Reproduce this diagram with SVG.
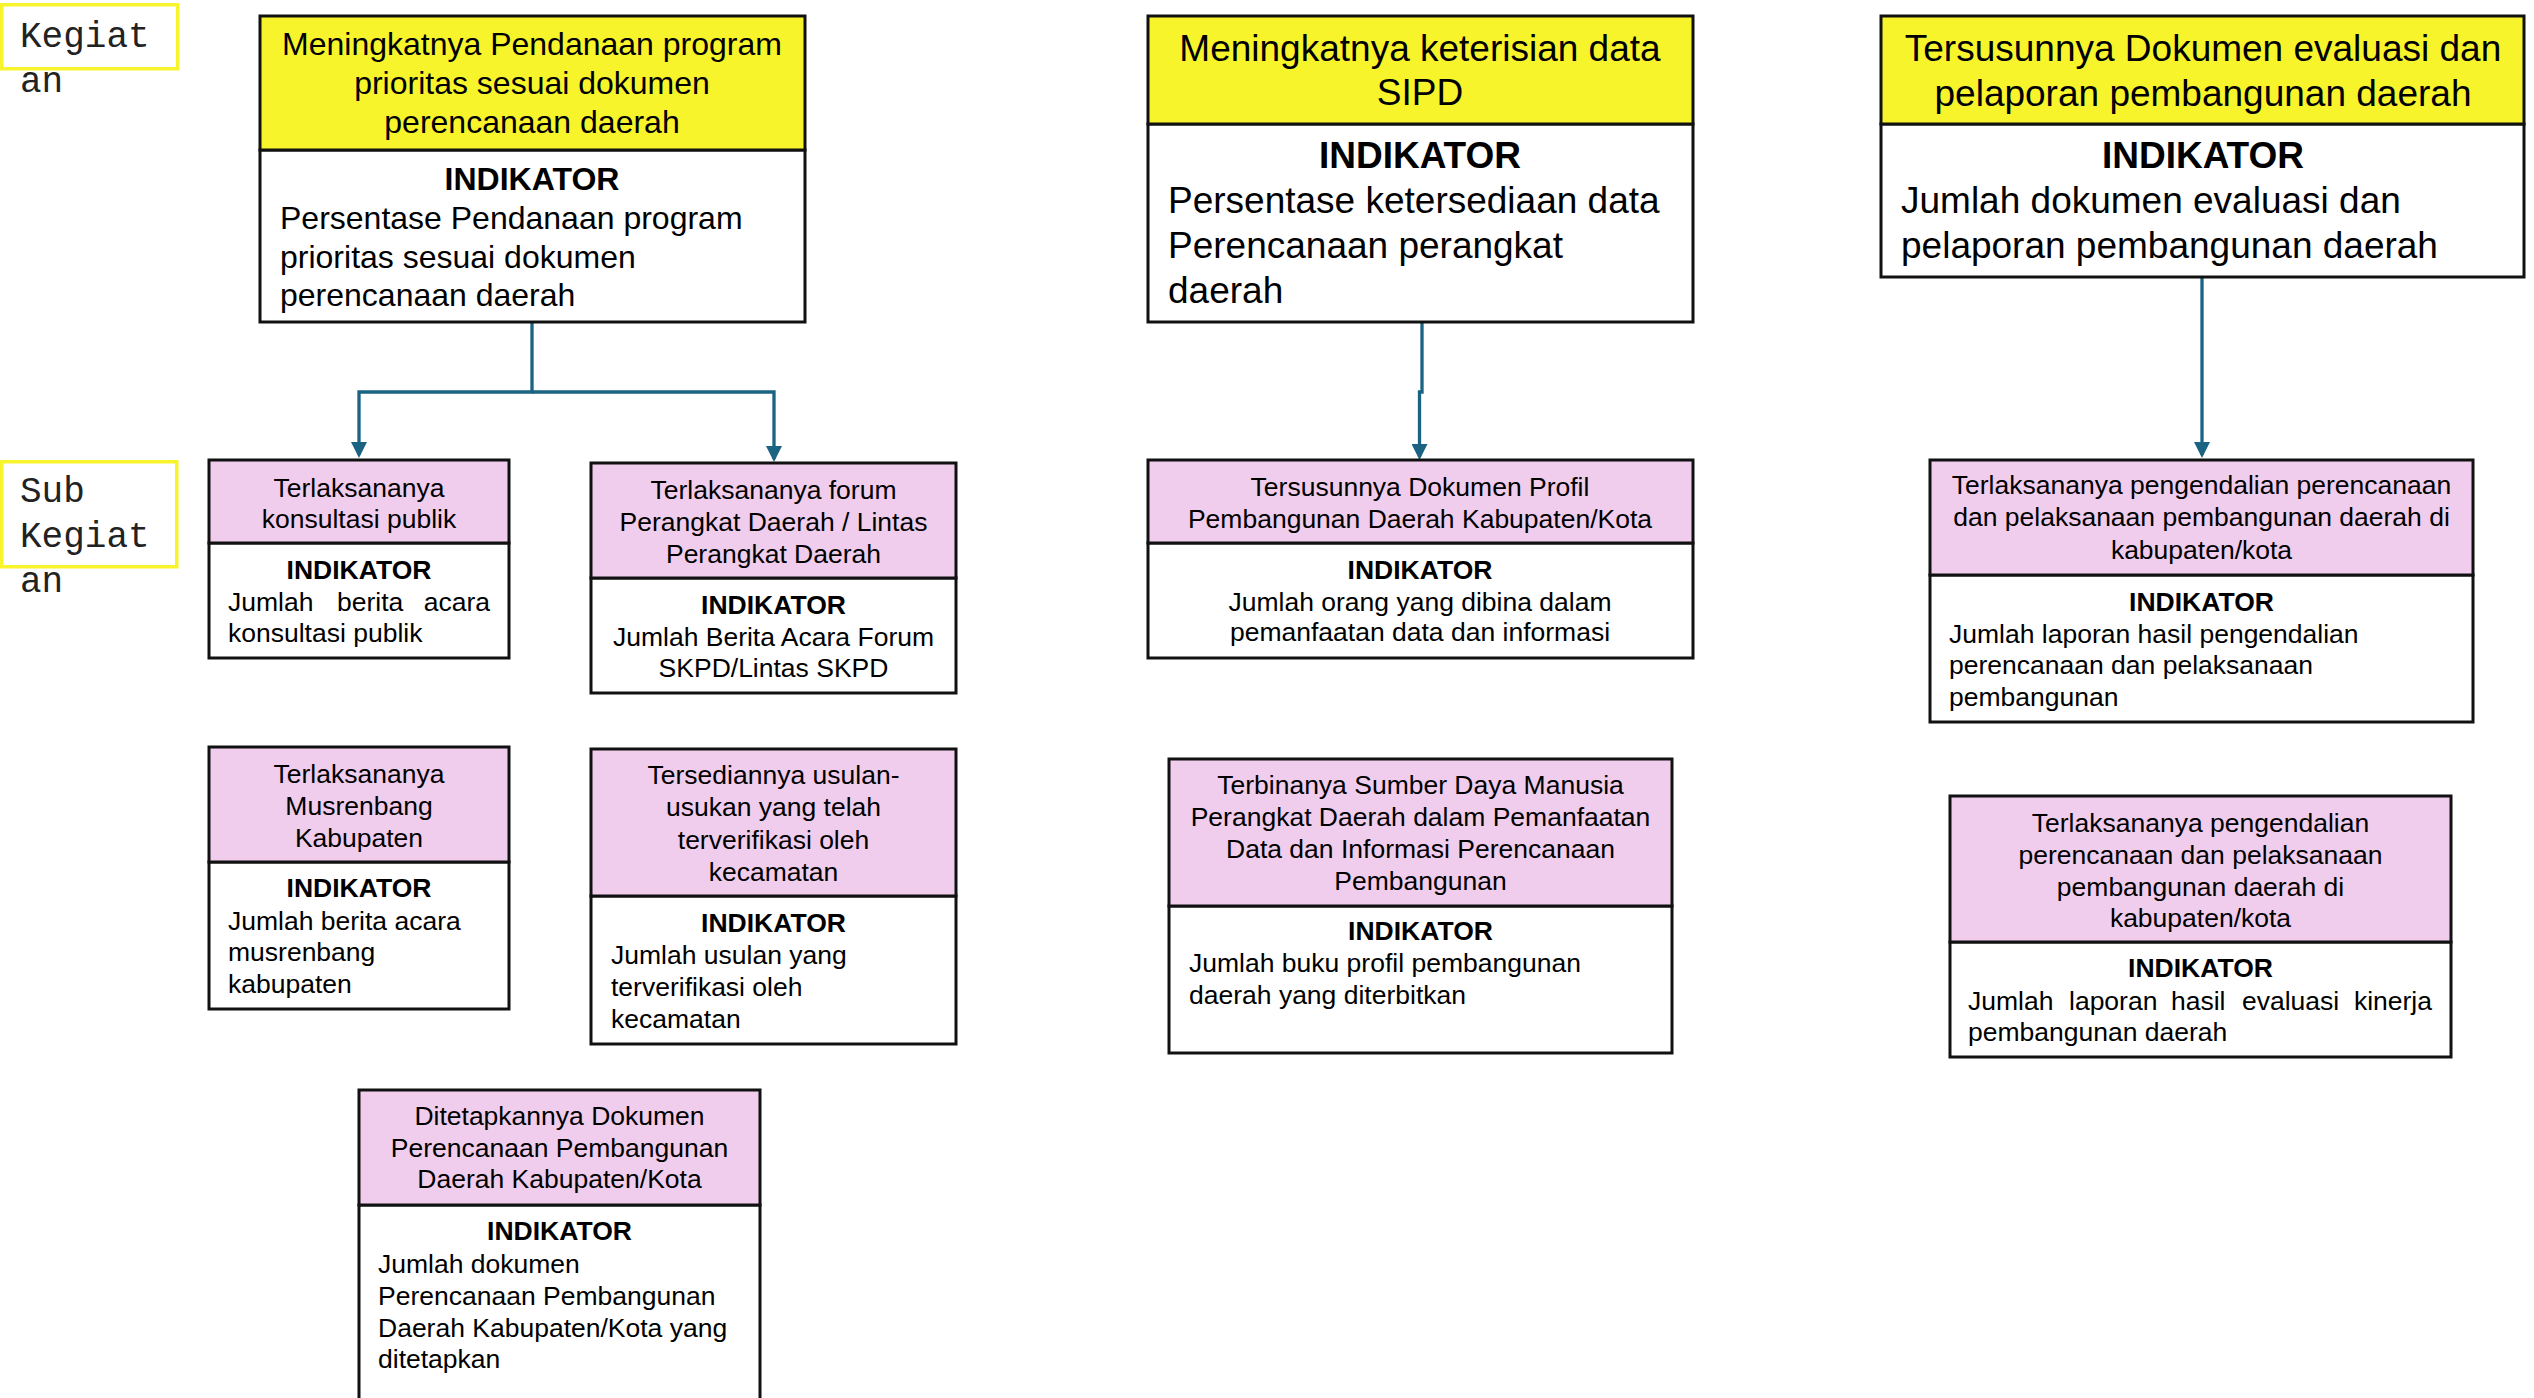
<svg xmlns="http://www.w3.org/2000/svg" width="2534" height="1398" viewBox="0 0 2534 1398">
<style>
.lbl{fill:none;stroke:#F8F42C;stroke-width:3.5}
.mono{font-family:"Liberation Mono","Courier New",monospace;font-size:36px;fill:#222}
.hy{fill:#F8F42C;stroke:#111;stroke-width:3}
.hp{fill:#F0CDED;stroke:#111;stroke-width:3}
.bd{fill:#fff;stroke:#111;stroke-width:3}
text{font-family:"Liberation Sans",Arial,sans-serif;fill:#000}
.t32{font-size:32px}
.t37{font-size:37px}
.t26{font-size:26.5px}
.c{text-anchor:middle}
.e{text-anchor:end}
.b{font-weight:bold}
.conn{fill:none;stroke:#1A6383;stroke-width:3.3}
</style>
<defs>
<marker id="arr" markerUnits="userSpaceOnUse" markerWidth="16" markerHeight="16" refX="13" refY="8" orient="auto">
<path d="M0,0 L16,8 L0,16 z" fill="#1A6383"/>
</marker>
</defs>
<rect width="2534" height="1398" fill="#fff"/>

<g id="label-kegiatan">
<rect class="lbl" x="1.75" y="4.75" width="176" height="64"/>
<text class="mono" x="20" y="47">Kegiat</text>
<text class="mono" x="20" y="92">an</text>
</g>
<g id="label-subkegiatan">
<rect class="lbl" x="1.75" y="461.75" width="175" height="105"/>
<text class="mono" x="20" y="502">Sub</text>
<text class="mono" x="20" y="547">Kegiat</text>
<text class="mono" x="20" y="592">an</text>
</g>

<g id="connectors">
<path class="conn" d="M532,322 V392 H359 V455" marker-end="url(#arr)"/>
<path class="conn" d="M532,392 H774 V459" marker-end="url(#arr)"/>
<path class="conn" d="M1422,322 V392 H1419.5 V457" marker-end="url(#arr)"/>
<path class="conn" d="M2202,277 V455" marker-end="url(#arr)"/>
</g>

<g id="kegiatan-1">
<rect class="bd" x="260" y="150" width="545" height="172"/>
<rect class="hy" x="260" y="16" width="545" height="134"/>
<text class="t32 c" x="532" y="55">Meningkatnya Pendanaan program</text>
<text class="t32 c" x="532" y="94">prioritas sesuai dokumen</text>
<text class="t32 c" x="532" y="133">perencanaan daerah</text>
<text class="t32 c b" x="532" y="190">INDIKATOR</text>
<text class="t32" x="280" y="229">Persentase Pendanaan program</text>
<text class="t32" x="280" y="268">prioritas sesuai dokumen</text>
<text class="t32" x="280" y="306">perencanaan daerah</text>
</g>

<g id="kegiatan-2">
<rect class="bd" x="1148" y="124" width="545" height="198"/>
<rect class="hy" x="1148" y="16" width="545" height="108"/>
<text class="t37 c" x="1420" y="61">Meningkatnya keterisian data</text>
<text class="t37 c" x="1420" y="105">SIPD</text>
<text class="t37 c b" x="1420" y="168">INDIKATOR</text>
<text class="t37" x="1168" y="213">Persentase ketersediaan data</text>
<text class="t37" x="1168" y="258">Perencanaan perangkat</text>
<text class="t37" x="1168" y="303">daerah</text>
</g>

<g id="kegiatan-3">
<rect class="bd" x="1881" y="124" width="643" height="153"/>
<rect class="hy" x="1881" y="16" width="643" height="108"/>
<text class="t37 c" x="2203" y="61">Tersusunnya Dokumen evaluasi dan</text>
<text class="t37 c" x="2203" y="106">pelaporan pembangunan daerah</text>
<text class="t37 c b" x="2203" y="168">INDIKATOR</text>
<text class="t37" x="1901" y="213">Jumlah dokumen evaluasi dan</text>
<text class="t37" x="1901" y="258">pelaporan pembangunan daerah</text>
</g>

<g id="sub-konsultasi">
<rect class="bd" x="209" y="543" width="300" height="115"/>
<rect class="hp" x="209" y="460" width="300" height="83"/>
<text class="t26 c" x="359" y="497">Terlaksananya</text>
<text class="t26 c" x="359" y="528">konsultasi publik</text>
<text class="t26 c b" x="359" y="579">INDIKATOR</text>
<text class="t26" y="611"><tspan x="228">Jumlah</tspan><tspan x="337">berita</tspan><tspan x="490" text-anchor="end">acara</tspan></text>
<text class="t26" x="228" y="642">konsultasi publik</text>
</g>

<g id="sub-forum">
<rect class="bd" x="591" y="578" width="365" height="115"/>
<rect class="hp" x="591" y="463" width="365" height="115"/>
<text class="t26 c" x="773.5" y="499">Terlaksananya forum</text>
<text class="t26 c" x="773.5" y="531">Perangkat Daerah / Lintas</text>
<text class="t26 c" x="773.5" y="563">Perangkat Daerah</text>
<text class="t26 c b" x="773.5" y="614">INDIKATOR</text>
<text class="t26 c" x="773.5" y="646">Jumlah Berita Acara Forum</text>
<text class="t26 c" x="773.5" y="677">SKPD/Lintas SKPD</text>
</g>

<g id="sub-musrenbang">
<rect class="bd" x="209" y="862" width="300" height="147"/>
<rect class="hp" x="209" y="747" width="300" height="115"/>
<text class="t26 c" x="359" y="783">Terlaksananya</text>
<text class="t26 c" x="359" y="815">Musrenbang</text>
<text class="t26 c" x="359" y="847">Kabupaten</text>
<text class="t26 c b" x="359" y="897">INDIKATOR</text>
<text class="t26" x="228" y="930">Jumlah berita acara</text>
<text class="t26" x="228" y="961">musrenbang</text>
<text class="t26" x="228" y="993">kabupaten</text>
</g>

<g id="sub-usulan">
<rect class="bd" x="591" y="896" width="365" height="148"/>
<rect class="hp" x="591" y="749" width="365" height="147"/>
<text class="t26 c" x="773.5" y="784">Tersediannya usulan-</text>
<text class="t26 c" x="773.5" y="816">usukan yang telah</text>
<text class="t26 c" x="773.5" y="849">terverifikasi oleh</text>
<text class="t26 c" x="773.5" y="881">kecamatan</text>
<text class="t26 c b" x="773.5" y="932">INDIKATOR</text>
<text class="t26" x="611" y="964">Jumlah usulan yang</text>
<text class="t26" x="611" y="996">terverifikasi oleh</text>
<text class="t26" x="611" y="1028">kecamatan</text>
</g>

<g id="sub-dokumen-perencanaan">
<rect class="bd" x="359" y="1205" width="401" height="220"/>
<rect class="hp" x="359" y="1090" width="401" height="115"/>
<text class="t26 c" x="559.5" y="1125">Ditetapkannya Dokumen</text>
<text class="t26 c" x="559.5" y="1157">Perencanaan Pembangunan</text>
<text class="t26 c" x="559.5" y="1188">Daerah Kabupaten/Kota</text>
<text class="t26 c b" x="559.5" y="1240">INDIKATOR</text>
<text class="t26" x="378" y="1273">Jumlah dokumen</text>
<text class="t26" x="378" y="1305">Perencanaan Pembangunan</text>
<text class="t26" x="378" y="1337">Daerah Kabupaten/Kota yang</text>
<text class="t26" x="378" y="1368">ditetapkan</text>
</g>

<g id="sub-profil">
<rect class="bd" x="1148" y="543" width="545" height="115"/>
<rect class="hp" x="1148" y="460" width="545" height="83"/>
<text class="t26 c" x="1420" y="496">Tersusunnya Dokumen Profil</text>
<text class="t26 c" x="1420" y="528">Pembangunan Daerah Kabupaten/Kota</text>
<text class="t26 c b" x="1420" y="579">INDIKATOR</text>
<text class="t26 c" x="1420" y="611">Jumlah orang yang dibina dalam</text>
<text class="t26 c" x="1420" y="641">pemanfaatan data dan informasi</text>
</g>

<g id="sub-sdm">
<rect class="bd" x="1169" y="906" width="503" height="147"/>
<rect class="hp" x="1169" y="759" width="503" height="147"/>
<text class="t26 c" x="1420.5" y="794">Terbinanya Sumber Daya Manusia</text>
<text class="t26 c" x="1420.5" y="826">Perangkat Daerah dalam Pemanfaatan</text>
<text class="t26 c" x="1420.5" y="858">Data dan Informasi Perencanaan</text>
<text class="t26 c" x="1420.5" y="890">Pembangunan</text>
<text class="t26 c b" x="1420.5" y="940">INDIKATOR</text>
<text class="t26" x="1189" y="972">Jumlah buku profil pembangunan</text>
<text class="t26" x="1189" y="1004">daerah yang diterbitkan</text>
</g>

<g id="sub-pengendalian-1">
<rect class="bd" x="1930" y="575" width="543" height="147"/>
<rect class="hp" x="1930" y="460" width="543" height="115"/>
<text class="t26 c" x="2201.5" y="494">Terlaksananya pengendalian perencanaan</text>
<text class="t26 c" x="2201.5" y="526">dan pelaksanaan pembangunan daerah di</text>
<text class="t26 c" x="2201.5" y="559">kabupaten/kota</text>
<text class="t26 c b" x="2201.5" y="611">INDIKATOR</text>
<text class="t26" x="1949" y="643">Jumlah laporan hasil pengendalian</text>
<text class="t26" x="1949" y="674">perencanaan dan pelaksanaan</text>
<text class="t26" x="1949" y="706">pembangunan</text>
</g>

<g id="sub-pengendalian-2">
<rect class="bd" x="1950" y="942" width="501" height="115"/>
<rect class="hp" x="1950" y="796" width="501" height="146"/>
<text class="t26 c" x="2200.5" y="832">Terlaksananya pengendalian</text>
<text class="t26 c" x="2200.5" y="864">perencanaan dan pelaksanaan</text>
<text class="t26 c" x="2200.5" y="896">pembangunan daerah di</text>
<text class="t26 c" x="2200.5" y="927">kabupaten/kota</text>
<text class="t26 c b" x="2200.5" y="977">INDIKATOR</text>
<text class="t26" y="1010"><tspan x="1968">Jumlah</tspan><tspan x="2069">laporan</tspan><tspan x="2171">hasil</tspan><tspan x="2242">evaluasi</tspan><tspan x="2432" text-anchor="end">kinerja</tspan></text>
<text class="t26" x="1968" y="1041">pembangunan daerah</text>
</g>
</svg>
